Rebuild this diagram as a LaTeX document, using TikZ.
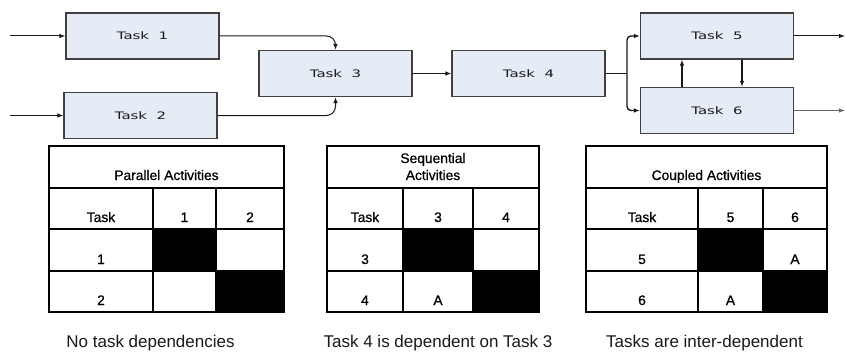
\documentclass[tikz,border=0pt]{standalone}
\usepackage{fontspec}
\newfontfamily\boxfont[FakeStretch=1.45,WordSpace=2]{DejaVu Sans}
\newfontfamily\tabfont{Liberation Sans}
\newfontfamily\cellfont[FakeBold=0.8]{Liberation Sans}
\usetikzlibrary{arrows.meta}
\definecolor{taskfill}{HTML}{E6ECF6}
\definecolor{taskline}{HTML}{404040}
\tikzset{
  task/.style={draw=taskline, line width=1.1pt, fill=taskfill,
    minimum width=153pt, minimum height=46pt,
    font=\boxfont\fontsize{10.3}{12}\selectfont, text=black!90},
  flow/.style={-{Latex[length=6pt,width=4.5pt]}, line width=1pt, draw=black!90},
  grid/.style={line width=1.6pt},
  cell/.style={font=\cellfont\fontsize{13.8}{17}\selectfont, anchor=base, inner sep=0pt},
  note/.style={font=\tabfont\fontsize{17}{20}\selectfont, text=black!90},
}
\begin{document}
\begin{tikzpicture}[x=1pt,y=-1pt]
\useasboundingbox (0,0) rectangle (845,353);
% process flow
\node[task] (t1) at (142.5,36) {Task 1};
\node[task] (t2) at (140.5,115.5) {Task 2};
\node[task] (t3) at (335.5,73.5) {Task 3};
\node[task] (t4) at (528.5,73.5) {Task 4};
\node[task] (t5) at (717,36) {Task 5};
\node[task] (t6) at (717,110.5) {Task 6};
\coordinate (in1) at (10,36);
\coordinate (in2) at (10,115.5);
\coordinate (split) at (627,73.5);
\coordinate (out5) at (845,36);
\coordinate (out6) at (845,110.5);
\draw[flow] (in1) -- (t1.west);
\draw[flow] (in2) -- (t2.west);
\draw[flow, rounded corners=9pt] (t1.east) -| (t3.north);
\draw[flow, rounded corners=9pt] (t2.east) -| (t3.south);
\draw[flow] (t3.east) -- (t4.west);
\draw[line width=1pt, black!90] (t4.east) -- (split);
\draw[flow, line width=1.4pt, rounded corners=4pt] (split) |- (t5.west);
\draw[flow, line width=1.4pt, rounded corners=4pt] (split) |- (t6.west);
\draw[flow] (t5.east) -- (out5);
\draw[flow, draw=black!60] (t6.east) -- (out6);
\draw[flow, line width=1.6pt] ([xshift=-35pt]t6.north) -- ([xshift=-35pt]t5.south);
\draw[flow, line width=1.6pt] ([xshift=25pt]t5.south) -- ([xshift=25pt]t6.north);

% parallel activities
\draw[grid] (49,146) rectangle (284,312);
\foreach \y in {188,229,271} \draw[grid] (49,\y) -- (284,\y);
\foreach \x in {153,216} \draw[grid] (\x,188) -- (\x,312);
\fill (153,229) rectangle (216,271);
\fill (216,271) rectangle (284,312);
\node[cell] (p0) at (166.5,180) {Parallel Activities};
\foreach \txt/\x/\y [count=\i] in {Task/101/222, 1/184.5/222, 2/250/222, 1/101/264, 2/101/305}
  \node[cell] (p\i) at (\x,\y) {\txt};

% sequential activities
\draw[grid] (327,146) rectangle (539,312);
\foreach \y in {188,229,271} \draw[grid] (327,\y) -- (539,\y);
\foreach \x in {403,473} \draw[grid] (\x,188) -- (\x,312);
\fill (403,229) rectangle (473,271);
\fill (473,271) rectangle (539,312);
\node[cell, align=center] (s0) at (433,180) {Sequential\\Activities};
\foreach \txt/\x/\y [count=\i] in {Task/365/222, 3/438/222, 4/506/222, 3/365/264, 4/365/305, A/438/305}
  \node[cell] (s\i) at (\x,\y) {\txt};

% coupled activities
\draw[grid] (586,146) rectangle (827,312);
\foreach \y in {188,229,271} \draw[grid] (586,\y) -- (827,\y);
\foreach \x in {698,763} \draw[grid] (\x,188) -- (\x,312);
\fill (698,229) rectangle (763,271);
\fill (763,271) rectangle (827,312);
\node[cell] (c0) at (706.5,180) {Coupled Activities};
\foreach \txt/\x/\y [count=\i] in {Task/642/222, 5/730.5/222, 6/795/222, 5/642/264, A/795/264, 6/642/305, A/730.5/305}
  \node[cell] (c\i) at (\x,\y) {\txt};

% captions
\node[note] (n1) at (150.5,343) {No task dependencies};
\node[note] (n2) at (438,343) {Task 4 is dependent on Task 3};
\node[note] (n3) at (704.5,343) {Tasks are inter-dependent};
\end{tikzpicture}
\end{document}
